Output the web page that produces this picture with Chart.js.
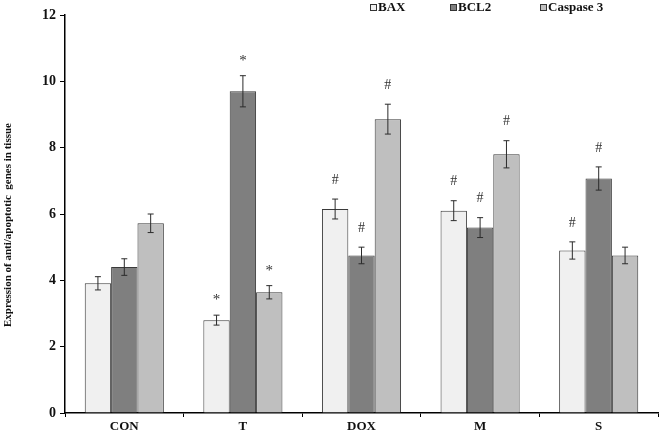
<!DOCTYPE html>
<html>
<head>
<meta charset="utf-8">
<script src="https://cdn.jsdelivr.net/npm/chart.js@4"></script>
<style>
  html, body { margin: 0; padding: 0; background: #fff; }
  #wrap { width: 666px; height: 434px; }
</style>
</head>
<body>
<div id="wrap"><canvas id="chart" width="666" height="434"></canvas></div>
<script>
// ── Data ──────────────────────────────────────────────
const groups = ['CON', 'T', 'DOX', 'M', 'S'];
const seriesNames = ['BAX', 'BCL2', 'Caspase 3'];

const baxValues  = [3.91, 2.80, 6.15, 6.10, 4.90];
const baxErrors  = [0.20, 0.15, 0.30, 0.30, 0.26];
const baxMarks   = ['', '*', '#', '#', '#'];

const bcl2Values = [4.40, 9.70, 4.75, 5.59, 7.07];
const bcl2Errors = [0.25, 0.47, 0.25, 0.30, 0.35];
const bcl2Marks  = ['', '*', '#', '#', '#'];

const caspValues = [5.72, 3.64, 8.86, 7.80, 4.75];
const caspErrors = [0.28, 0.20, 0.45, 0.41, 0.25];
const caspMarks  = ['', '*', '#', '#', ''];

const yTicks = [0, 2, 4, 6, 8, 10, 12];

const SERIF = "'Liberation Serif', 'DejaVu Serif', serif";
const fills = ['#f0f0f0', '#7f7f7f', '#bfbfbf'];

// ── Error bars + significance marks ───────────────────
const errorBarPlugin = {
    id: 'errorBars',
    afterDatasetsDraw(chart) {
        const ctx = chart.ctx;
        const y = chart.scales.y;
        ctx.save();
        chart.data.datasets.forEach((ds, di) => {
            const meta = chart.getDatasetMeta(di);
            meta.data.forEach((bar, i) => {
                const v = ds.data[i], e = ds.errors[i];
                const top = y.getPixelForValue(v + e);
                const bot = y.getPixelForValue(v - e);
                ctx.strokeStyle = '#2b2b2b';
                ctx.lineWidth = 1;
                ctx.beginPath();
                ctx.moveTo(bar.x, top); ctx.lineTo(bar.x, bot);
                ctx.moveTo(bar.x - 3, top); ctx.lineTo(bar.x + 3, top);
                ctx.moveTo(bar.x - 3, bot); ctx.lineTo(bar.x + 3, bot);
                ctx.stroke();

                const mark = ds.marks[i];
                if (mark) {
                    ctx.fillStyle = '#333';
                    ctx.font = (mark === '*' ? '15px ' : '14px ') + SERIF;
                    ctx.textAlign = 'center';
                    ctx.textBaseline = 'middle';
                    ctx.fillText(mark, bar.x, top - (mark === '*' ? 15 : 19));
                }
            });
        });
        ctx.restore();
    }
};

// ── Legend drawn across the top, as in the figure ─────
const topLegendPlugin = {
    id: 'topLegend',
    afterDraw(chart) {
        const ctx = chart.ctx;
        const xs = [370, 450, 540];
        ctx.save();
        ctx.font = 'bold 13px ' + SERIF;
        ctx.textBaseline = 'middle';
        ctx.textAlign = 'left';
        chart.data.datasets.forEach((ds, i) => {
            ctx.fillStyle = ds.backgroundColor;
            ctx.strokeStyle = '#333';
            ctx.lineWidth = 1;
            ctx.fillRect(xs[i] + 0.5, 4.5, 6, 6);
            ctx.strokeRect(xs[i] + 0.5, 4.5, 6, 6);
            ctx.fillStyle = '#111';
            ctx.fillText(ds.label, xs[i] + 8, 8);
        });
        ctx.restore();
    }
};

const datasets = [
    { label: seriesNames[0], data: baxValues,  errors: baxErrors,  marks: baxMarks,  backgroundColor: fills[0] },
    { label: seriesNames[1], data: bcl2Values, errors: bcl2Errors, marks: bcl2Marks, backgroundColor: fills[1] },
    { label: seriesNames[2], data: caspValues, errors: caspErrors, marks: caspMarks, backgroundColor: fills[2] }
].map(d => Object.assign(d, {
    borderColor: '#3a3a3a',
    borderWidth: 1,
    categoryPercentage: 0.667,
    barPercentage: 1.0
}));

// title sits a little below the axis centre in the figure, trailing spaces push it down
const yTitle = 'Expression of anti/apoptotic  genes in tissue' + '\u00a0'.repeat(8);

new Chart(document.getElementById('chart'), {
    type: 'bar',
    data: { labels: groups, datasets },
    options: {
        responsive: false,
        animation: false,
        layout: { padding: { top: 15, right: 8, left: 0, bottom: 0 } },
        plugins: {
            legend: { display: false },
            tooltip: { enabled: false }
        },
        scales: {
            x: {
                offset: true,
                grid: { offset: true, drawOnChartArea: false, drawTicks: true, tickLength: 4, color: '#000' },
                border: { display: true, color: '#000', width: 1.5 },
                ticks: { color: '#111', font: { family: SERIF, size: 13, weight: 'bold' }, padding: 2 },
                afterFit(scale) { scale.height = 21; }
            },
            y: {
                min: 0,
                max: 12,
                afterBuildTicks(scale) { scale.ticks = yTicks.map(v => ({ value: v })); },
                grid: { drawOnChartArea: false, drawTicks: true, tickLength: 5, color: '#000' },
                border: { display: true, color: '#000', width: 1.5 },
                ticks: { color: '#111', font: { family: SERIF, size: 14, weight: 'bold' }, padding: 4 },
                title: {
                    display: true,
                    text: yTitle,
                    color: '#111',
                    font: { family: SERIF, size: 11, weight: 'bold' },
                    padding: { top: 2, bottom: 0 }
                },
                afterFit(scale) { scale.width = 65; }
            }
        }
    },
    plugins: [errorBarPlugin, topLegendPlugin]
});
</script>
</body>
</html>
